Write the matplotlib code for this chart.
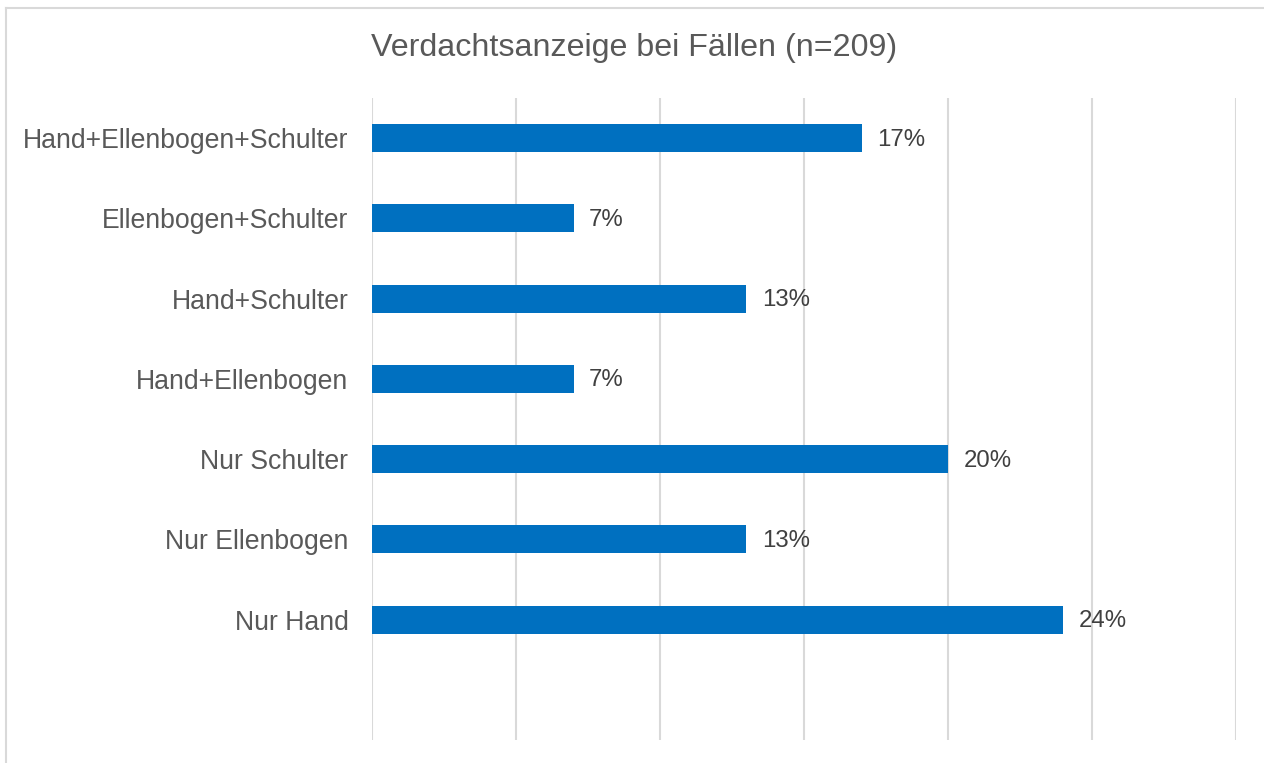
import matplotlib
matplotlib.use("Agg")
import matplotlib.pyplot as plt
from matplotlib.lines import Line2D

plt.rcParams['font.family'] = ['Liberation Sans', 'DejaVu Sans']

categories = ["Hand+Ellenbogen+Schulter", "Ellenbogen+Schulter", "Hand+Schulter",
              "Hand+Ellenbogen", "Nur Schulter", "Nur Ellenbogen", "Nur Hand"]
values = [17, 7, 13, 7, 20, 13, 24]
title = "Verdachtsanzeige bei Fällen (n=209)"
xticks = [0, 5, 10, 15, 20, 25, 30]

W, H = 1264, 763
fig = plt.figure(figsize=(W / 100, H / 100), dpi=100)
fig.patch.set_facecolor("white")

# outer chart border (cropped frame: left + top visible)
fig.add_artist(Line2D([5.5 / W, 5.5 / W], [0, 1 - 7.5 / H], transform=fig.transFigure,
                      color="#D9D9D9", lw=1.5))
fig.add_artist(Line2D([5.5 / W, 1], [1 - 7.5 / H, 1 - 7.5 / H], transform=fig.transFigure,
                      color="#D9D9D9", lw=1.5))

ax = fig.add_axes([372 / W, 1 - 740 / H, (1236 - 372) / W, (740 - 98) / H])
n = len(categories)
# 8 slots: one empty at the bottom
ypos = [n - i for i in range(n)]
ax.barh(ypos, values, height=0.35, color="#0070C0", zorder=3)
for y, v in zip(ypos, values):
    ax.annotate(f"{v}%", xy=(v, y), xytext=(11, -1), textcoords="offset points",
                ha="left", va="center", fontsize=17.3, color="#404040")

ax.set_xlim(0, 30)
ax.set_ylim(-0.5, n + 0.5)
ax.set_xticks(xticks)
ax.set_xticklabels([])
ax.set_yticks(ypos)
ax.set_yticklabels(categories, fontsize=19.2, color="#595959")
ax.tick_params(axis="both", length=0)
ax.tick_params(axis="y", pad=17)
ax.grid(axis="x", color="#D9D9D9", lw=1.5, zorder=0)
for s in ax.spines.values():
    s.set_visible(False)

fig.text(634 / W, 1 - 48 / H, title, ha="center", va="center", fontsize=23.2, color="#595959")

fig.savefig("out.png", dpi=100)
